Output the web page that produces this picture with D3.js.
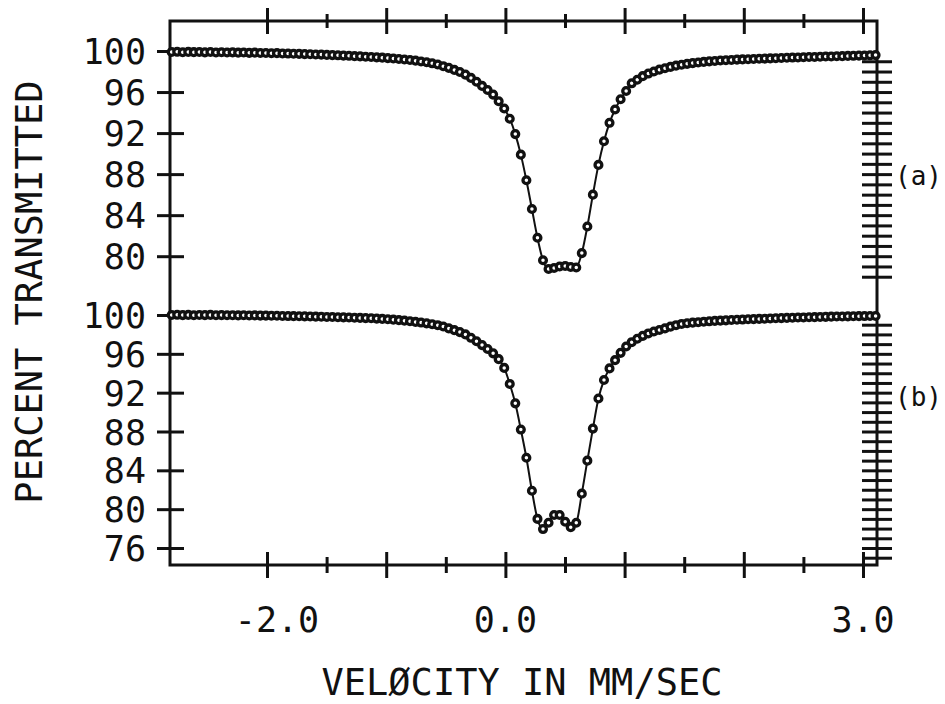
<!DOCTYPE html>
<html>
<head>
<meta charset="utf-8">
<script src="https://cdn.jsdelivr.net/npm/d3@7"></script>
<style>
  html, body { margin: 0; padding: 0; background: #fff; }
  svg { display: block; }
</style>
</head>
<body>
<svg id="chart" width="945" height="704"></svg>
<script>
// Mössbauer spectra, two absorbers (a) and (b), percent transmission per channel.
// Channel velocity calibration (linear drive): v = velStart + i * velStep, mm/s.
const velStart = -2.80;
const velStep = 0.0465;

const spectrumA = [
  99.90, 99.92, 99.88, 99.91, 99.89, 99.90, 99.87, 99.90, 99.86, 99.88,
  99.85, 99.87, 99.84, 99.85, 99.82, 99.84, 99.80, 99.81, 99.78, 99.79,
  99.76, 99.75, 99.73, 99.72, 99.70, 99.68, 99.66, 99.65, 99.62, 99.60,
  99.58, 99.55, 99.53, 99.50, 99.48, 99.44, 99.42, 99.38, 99.35, 99.31,
  99.27, 99.22, 99.17, 99.12, 99.06, 98.98, 98.90, 98.80, 98.68, 98.52,
  98.36, 98.16, 97.95, 97.70, 97.38, 97.00, 96.60, 96.20, 95.75, 95.10,
  94.40, 93.40, 91.90, 89.90, 87.40, 84.60, 81.80, 79.60, 78.75, 78.85,
  79.00, 79.05, 78.95, 78.90, 80.30, 82.90, 86.00, 88.90, 91.20, 93.00,
  94.30, 95.30, 96.10, 96.85, 97.20, 97.55, 97.80, 98.00, 98.18, 98.32,
  98.45, 98.57, 98.66, 98.75, 98.82, 98.88, 98.94, 98.99, 99.03, 99.07,
  99.10, 99.13, 99.16, 99.18, 99.20, 99.22, 99.24, 99.26, 99.28, 99.30,
  99.32, 99.34, 99.36, 99.37, 99.39, 99.41, 99.42, 99.44, 99.46, 99.47,
  99.49, 99.50, 99.52, 99.53, 99.55, 99.56, 99.58, 99.60
];

const spectrumB = [
  100.00, 100.02, 99.99, 100.01, 99.98, 100.00, 99.99, 100.01, 99.98, 99.99,
  99.97, 99.98, 99.96, 99.97, 99.95, 99.96, 99.94, 99.94, 99.92, 99.92,
  99.90, 99.89, 99.88, 99.87, 99.86, 99.84, 99.83, 99.82, 99.80, 99.79,
  99.77, 99.76, 99.74, 99.72, 99.70, 99.68, 99.66, 99.63, 99.60, 99.56,
  99.52, 99.47, 99.42, 99.36, 99.29, 99.22, 99.14, 99.05, 98.95, 98.82,
  98.62, 98.44, 98.24, 98.00, 97.65, 97.30, 96.90, 96.50, 96.05, 95.45,
  94.55, 92.90, 90.90, 88.20, 85.30, 81.90, 79.00, 77.95, 78.60, 79.40,
  79.40, 78.70, 78.15, 78.60, 81.60, 85.00, 88.30, 91.40, 93.30, 94.50,
  95.35, 96.10, 96.75, 97.20, 97.55, 97.85, 98.10, 98.30, 98.46, 98.62,
  98.80, 98.95, 99.08, 99.15, 99.21, 99.26, 99.31, 99.35, 99.39, 99.42,
  99.45, 99.48, 99.51, 99.53, 99.56, 99.58, 99.60, 99.62, 99.64, 99.66,
  99.68, 99.70, 99.72, 99.74, 99.75, 99.77, 99.78, 99.80, 99.81, 99.83,
  99.84, 99.85, 99.86, 99.87, 99.88, 99.89, 99.90, 99.90
];

// Axis ticks
const xMajorTicks = [-2, -1, 0, 1, 2, 3];
const xMinorTicks = [-1.5, -0.5, 0.5, 1.5, 2.5];
const xLabelTicks = [-2, 0, 3];
const yTicksA = [100, 96, 92, 88, 84, 80];
const yTicksB = [100, 96, 92, 88, 84, 80, 76];
const fineTicksA = d3.range(99, 77, -1);
const fineTicksB = d3.range(99, 74, -1);

const yTitle = "PERCENT TRANSMITTED";
const xTitle = "VELØCITY IN MM/SEC";
const panelNames = ["(a)", "(b)"];

// ---------------------------------------------------------------------
const svg = d3.select("#chart");
const FONT = "'DejaVu Sans Mono', 'Liberation Mono', monospace";

const frame = { left: 170, right: 877, top: 21, bottom: 565 };

const x = d3.scaleLinear().domain([-2, 3]).range([267, 863]);
const yA = d3.scaleLinear().domain([80, 100]).range([256.2, 51]);
const yB = d3.scaleLinear().domain([76, 100]).range([548, 315]);

const ink = "#111";

function styleAxis(g) {
  g.select(".domain").remove();
  g.selectAll(".tick line").attr("stroke", ink).attr("stroke-width", 3);
  g.attr("font-family", FONT);
}

// Bottom axis
const gBottom = svg.append("g").attr("transform", `translate(0,${frame.bottom})`)
  .call(d3.axisBottom(x).tickValues(xMajorTicks).tickSize(13).tickFormat(""));
styleAxis(gBottom);
gBottom.selectAll(".tick line").attr("y1", -13);

const gBottomMinor = svg.append("g").attr("transform", `translate(0,${frame.bottom})`)
  .call(d3.axisBottom(x).tickValues(xMinorTicks).tickSize(8).tickFormat(""));
styleAxis(gBottomMinor);
gBottomMinor.selectAll(".tick line").attr("y1", -8);

// Top axis
const gTop = svg.append("g").attr("transform", `translate(0,${frame.top})`)
  .call(d3.axisTop(x).tickValues(xMajorTicks).tickSize(13).tickFormat(""));
styleAxis(gTop);
gTop.selectAll(".tick line").attr("y1", 13);

const gTopMinor = svg.append("g").attr("transform", `translate(0,${frame.top})`)
  .call(d3.axisTop(x).tickValues(xMinorTicks).tickSize(7).tickFormat(""));
styleAxis(gTopMinor);
gTopMinor.selectAll(".tick line").attr("y1", 7);

// Velocity labels
svg.append("g")
  .attr("font-family", FONT)
  .attr("font-size", 35)
  .attr("fill", ink)
  .selectAll("text")
  .data(xLabelTicks)
  .join("text")
  .attr("x", d => x(d))
  .attr("dx", d => d < 0 ? 10 : 0)
  .attr("y", 632)
  .attr("text-anchor", "middle")
  .text(d => d3.format(".1f")(d).replace("−", "-"));

// Left percentage axes
function leftAxis(scale, ticks) {
  const g = svg.append("g").attr("transform", `translate(${frame.left},0)`)
    .call(d3.axisLeft(scale).tickValues(ticks).tickSize(13).tickPadding(11)
      .tickFormat(d3.format("d")));
  styleAxis(g);
  g.selectAll(".tick line").attr("x1", 14);
  g.selectAll(".tick text")
    .attr("font-size", 35)
    .attr("fill", ink)
    .attr("dy", "0.36em");
  return g;
}
leftAxis(yA, yTicksA);
leftAxis(yB, yTicksB);

// Right fine-tick axes
function rightAxis(scale, ticks) {
  const g = svg.append("g").attr("transform", `translate(${frame.right},0)`)
    .call(d3.axisRight(scale).tickValues(ticks).tickSize(15).tickFormat(""));
  styleAxis(g);
  g.selectAll(".tick line").attr("x1", -15);
  return g;
}
rightAxis(yA, fineTicksA);
rightAxis(yB, fineTicksB);

// Frame
svg.append("rect")
  .attr("x", frame.left).attr("y", frame.top)
  .attr("width", frame.right - frame.left)
  .attr("height", frame.bottom - frame.top)
  .attr("fill", "none")
  .attr("stroke", ink)
  .attr("stroke-width", 3);

// Spectra: fitted trace plus channel markers
function drawSpectrum(values, yScale) {
  const pts = values.map((t, i) => ({ v: velStart + i * velStep, t }));
  const g = svg.append("g");
  g.append("path")
    .datum(pts)
    .attr("fill", "none")
    .attr("stroke", ink)
    .attr("stroke-width", 2)
    .attr("d", d3.line().x(d => x(d.v)).y(d => yScale(d.t)).curve(d3.curveMonotoneX));
  g.selectAll("circle")
    .data(pts)
    .join("circle")
    .attr("cx", d => x(d.v))
    .attr("cy", d => yScale(d.t))
    .attr("r", 3.4)
    .attr("fill", "#fff")
    .attr("stroke", ink)
    .attr("stroke-width", 3.3);
}
drawSpectrum(spectrumA, yA);
drawSpectrum(spectrumB, yB);

// Panel tags
svg.append("g")
  .attr("font-family", FONT)
  .attr("font-size", 26)
  .attr("fill", ink)
  .selectAll("text")
  .data([{ name: panelNames[0], y: 185 }, { name: panelNames[1], y: 406 }])
  .join("text")
  .attr("x", 895)
  .attr("y", d => d.y)
  .text(d => d.name);

// Axis titles
svg.append("text")
  .attr("font-family", FONT)
  .attr("font-size", 37)
  .attr("fill", ink)
  .attr("text-anchor", "middle")
  .attr("transform", "translate(42,292) rotate(-90)")
  .text(yTitle);

svg.append("text")
  .attr("font-family", FONT)
  .attr("font-size", 37)
  .attr("fill", ink)
  .attr("text-anchor", "middle")
  .attr("x", 522)
  .attr("y", 695)
  .text(xTitle);
</script>
</body>
</html>
